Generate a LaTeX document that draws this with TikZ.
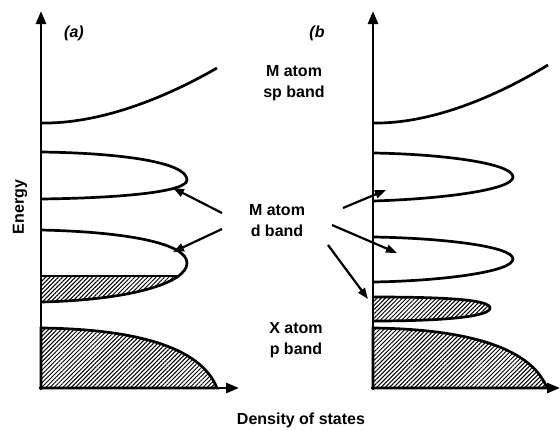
\documentclass[tikz,border=0pt]{standalone}
\usepackage{fontspec}
\setmainfont{Liberation Sans}
\usetikzlibrary{arrows.meta,patterns.meta}

\begin{document}
\begin{tikzpicture}[x=1pt,y=-1pt,
    band/.style={line width=2.7pt},
    hatch/.style={pattern={Lines[angle=45,distance=3pt,line width=1pt]}},
    axis/.style={line width=2.7pt,-{Triangle[length=13pt,width=10pt]}},
    pointer/.style={line width=2.2pt,-{Triangle[length=11pt,width=8pt]}},
    lbl/.style={font=\fontsize{16}{21}\selectfont\bfseries,align=center,inner sep=0pt}]
  \useasboundingbox (0,0) rectangle (560,429);

  % (a): axes
  \draw[axis] (41,390) -- (41,11);
  \draw[axis] (39,388) -- (239,388);

  % (a): sp band and d band (lower part filled)
  \draw[band] (41,123) .. controls (100,124) and (165,98) .. (217,68);
  \draw[band] (41,152) .. controls (120,153) and (187,162) .. (187,180)
                       .. controls (187,192) and (120,198) .. (41,199);
  \begin{scope}
    \clip (41,276) rectangle (200,310);
    \fill[hatch] (41,230) .. controls (130,232) and (187,244) .. (187,263)
                 .. controls (187,283) and (130,300) .. (41,302) -- cycle;
  \end{scope}
  \draw[band] (41,230) .. controls (130,232) and (187,244) .. (187,263)
              .. controls (187,283) and (130,300) .. (41,302);
  \draw[band] (41,276) -- (180,276);

  % (a): p band, full
  \draw[band,hatch] (41,328) .. controls (130,329) and (200,345) .. (217,388)
                    -- (41,388) -- cycle;

  % (b): axes
  \draw[axis] (373,390) -- (373,11);
  \draw[axis] (371,388) -- (560,388);

  % (b): sp band and d band split in two
  \draw[band] (373,123) .. controls (432,124) and (497,96) .. (548,65);
  \draw[band] (373,153) .. controls (440,154) and (513,163) .. (513,177)
                        .. controls (513,190) and (440,199) .. (373,201);
  \draw[band] (373,237) .. controls (440,238) and (513,246) .. (513,259)
                        .. controls (513,272) and (440,281) .. (373,282);
  \draw[band,hatch] (373,297) .. controls (450,297) and (490,300) .. (490,308)
                    .. controls (490,316) and (450,321) .. (373,321);
  \draw[band,hatch] (373,328) .. controls (460,329) and (530,345) .. (547,388)
                    -- (373,388) -- cycle;

  % labels
  \node[lbl,font=\fontsize{16}{21}\selectfont\bfseries\itshape] (pa) at (74,33) {(a)};
  \node[lbl,font=\fontsize{16}{21}\selectfont\bfseries\itshape] (pb) at (317,33) {(b};
  \node[lbl] (sp) at (294,83) {M atom\\sp band};
  \node[lbl] (dband) at (277,221) {M atom\\d band};
  \node[lbl] (pband) at (296,340) {X atom\\p band};
  \node[lbl,rotate=90] (energy) at (20,207) {Energy};
  \node[lbl] (dos) at (301,420) {Density of states};

  % pointers from the d band label
  \coordinate (ta1) at (222,213);
  \coordinate (ha1) at (173,188);
  \coordinate (ta2) at (222,229);
  \coordinate (ha2) at (173,252);
  \coordinate (tb1) at (343,208);
  \coordinate (hb1) at (386,190);
  \coordinate (tb2) at (332,225);
  \coordinate (hb2) at (397,253);
  \coordinate (tb3) at (328,245);
  \coordinate (hb3) at (368,299);
  \draw[pointer] (ta1) -- (ha1);
  \draw[pointer] (ta2) -- (ha2);
  \draw[pointer] (tb1) -- (hb1);
  \draw[pointer] (tb2) -- (hb2);
  \draw[pointer] (tb3) -- (hb3);
\end{tikzpicture}
\end{document}
